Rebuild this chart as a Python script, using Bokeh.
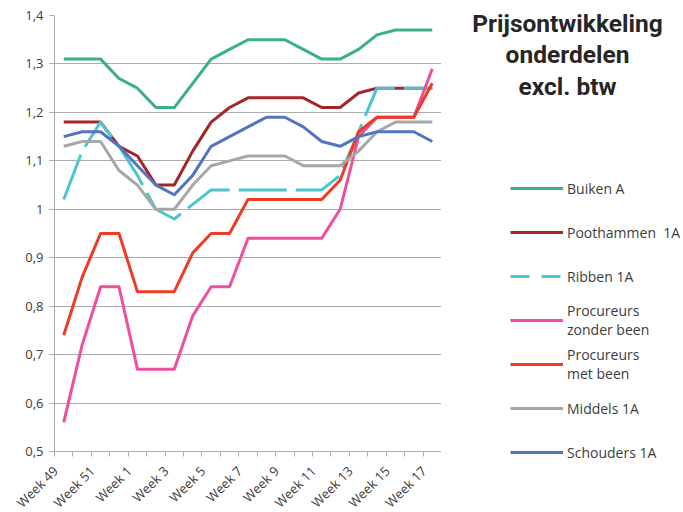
import numpy as np
from bokeh.plotting import figure
from bokeh.layouts import row, column
from bokeh.models import FixedTicker, Legend, LegendItem, Label, Range1d
from bokeh.embed import file_html
from bokeh.resources import INLINE

weeks = ["Week 49", "Week 50", "Week 51", "Week 52", "Week 1", "Week 2", "Week 3",
         "Week 4", "Week 5", "Week 6", "Week 7", "Week 8", "Week 9", "Week 10",
         "Week 11", "Week 12", "Week 13", "Week 14", "Week 15", "Week 16", "Week 17"]

buiken_a = [1.31, 1.31, 1.31, 1.27, 1.25, 1.21, 1.21, 1.26, 1.31, 1.33, 1.35,
            1.35, 1.35, 1.33, 1.31, 1.31, 1.33, 1.36, 1.37, 1.37, 1.37]
poothammen_1a = [1.18, 1.18, 1.18, 1.13, 1.11, 1.05, 1.05, 1.12, 1.18, 1.21, 1.23,
                 1.23, 1.23, 1.23, 1.21, 1.21, 1.24, 1.25, 1.25, 1.25, 1.25]
ribben_1a = [1.02, 1.12, 1.18, 1.13, 1.07, 1.00, 0.98, 1.01, 1.04, 1.04, 1.04,
             1.04, 1.04, 1.04, 1.04, 1.07, 1.16, 1.25, 1.25, 1.25, 1.25]
procureurs_zonder = [0.56, 0.72, 0.84, 0.84, 0.67, 0.67, 0.67, 0.78, 0.84, 0.84, 0.94,
                     0.94, 0.94, 0.94, 0.94, 1.00, 1.15, 1.19, 1.19, 1.19, 1.29]
procureurs_met = [0.74, 0.86, 0.95, 0.95, 0.83, 0.83, 0.83, 0.91, 0.95, 0.95, 1.02,
                  1.02, 1.02, 1.02, 1.02, 1.06, 1.16, 1.19, 1.19, 1.19, 1.26]
middels_1a = [1.13, 1.14, 1.14, 1.08, 1.05, 1.00, 1.00, 1.05, 1.09, 1.10, 1.11,
              1.11, 1.11, 1.09, 1.09, 1.09, 1.12, 1.16, 1.18, 1.18, 1.18]
schouders_1a = [1.15, 1.16, 1.16, 1.13, 1.09, 1.05, 1.03, 1.07, 1.13, 1.15, 1.17,
                1.19, 1.19, 1.17, 1.14, 1.13, 1.15, 1.16, 1.16, 1.16, 1.14]

series_names = ["Buiken A", "Poothammen  1A", "Ribben 1A", "Procureurs\nzonder been",
                "Procureurs\nmet been", "Middels 1A", "Schouders 1A"]
series_values = [buiken_a, poothammen_1a, ribben_1a, procureurs_zonder,
                 procureurs_met, middels_1a, schouders_1a]
series_colors = ["#3AAF88", "#A4262B", "#4CC5CC", "#EE4F9E", "#EE3B24", "#A6A7A9", "#5374BF"]
series_dash = ["solid", "solid", "48 9", "solid", "solid", "solid", "solid"]
legend_dash = ["solid", "solid", "19 12", "solid", "solid", "solid", "solid"]

y_ticks = [0.5, 0.6, 0.7, 0.8, 0.9, 1.0, 1.1, 1.2, 1.3, 1.4]
y_tick_labels = ["0,5", "0,6", "0,7", "0,8", "0,9", "1", "1,1", "1,2", "1,3", "1,4"]

title_text = "Prijsontwikkeling\nonderdelen\nexcl. btw"

x = list(range(len(weeks)))

grid_col = "#ADADAD"
txt_col = "#3C3C3C"

p = figure(frame_width=387, frame_height=436, min_border_left=54, min_border_top=15,
           min_border_right=0, min_border_bottom=40,
           x_range=Range1d(-0.5, len(weeks) - 0.5), y_range=Range1d(0.5, 1.4),
           output_backend="svg", toolbar_location=None)
p.outline_line_color = None

# x axis: tick marks between categories, rotated labels on every other category
label_pos = [round(i - 0.45, 2) for i in x[::2]]
p.xaxis.ticker = FixedTicker(ticks=label_pos,
                             minor_ticks=[i - 0.5 for i in range(len(weeks) + 1)])
p.xaxis.major_label_overrides = {pos: weeks[i] for pos, i in zip(label_pos, x[::2])}
p.xaxis.major_tick_line_color = None
p.xaxis.minor_tick_line_color = grid_col
p.xaxis.minor_tick_in = 0
p.xaxis.minor_tick_out = 5
p.xaxis.axis_line_color = grid_col
p.xaxis.major_label_orientation = np.pi / 4
p.xaxis.major_label_text_font = "Open Sans"
p.xaxis.major_label_text_font_size = "13px"
p.xaxis.major_label_text_color = txt_col
p.xaxis.major_label_standoff = 11
p.xgrid.grid_line_color = None

# y axis
p.yaxis.ticker = FixedTicker(ticks=y_ticks)
p.yaxis.major_label_overrides = dict(zip(y_ticks, y_tick_labels))
p.yaxis.major_tick_in = 0
p.yaxis.major_tick_out = 5
p.yaxis.major_tick_line_color = grid_col
p.yaxis.minor_tick_line_color = None
p.yaxis.axis_line_color = grid_col
p.yaxis.major_label_text_font = "Open Sans"
p.yaxis.major_label_text_font_size = "13px"
p.yaxis.major_label_text_color = txt_col
p.yaxis.major_label_standoff = 6
p.ygrid.grid_line_color = grid_col
p.ygrid.grid_line_width = 1

for vals, col, dash in zip(series_values, series_colors, series_dash):
    p.line(x, vals, line_color=col, line_width=3, line_dash=dash, line_join="round")

# side panel with title and legend
p2 = figure(width=242, height=512, x_range=Range1d(0, 242), y_range=Range1d(512, 0),
            x_axis_type=None, y_axis_type=None, min_border=0,
            output_backend="svg", toolbar_location=None)
p2.grid.grid_line_color = None
p2.outline_line_color = None

items = []
for name, col, dash in zip(series_names, series_colors, legend_dash):
    r = p2.line(x=[np.nan], y=[np.nan], line_color=col, line_width=3, line_dash=dash)
    items.append(LegendItem(label=name, renderers=[r]))

legend = Legend(items=items, location=(69, 38), padding=0, margin=0, spacing=0,
                label_height=44, glyph_height=20, glyph_width=53, label_standoff=4,
                border_line_color=None, background_fill_alpha=0,
                label_text_font="Open Sans", label_text_font_size="14px",
                label_text_color=txt_col, label_text_line_height=1.07)
p2.add_layout(legend, "center")

title = Label(x=126, y=8, text=title_text,
              text_align="center", text_baseline="top", text_font="Roboto",
              text_font_style="bold", text_font_size="24.5px", text_color="#262626",
              text_line_height=1.10)
p2.add_layout(title)

open("out.html", "w").write(file_html(row(p, column(p2)), INLINE))
